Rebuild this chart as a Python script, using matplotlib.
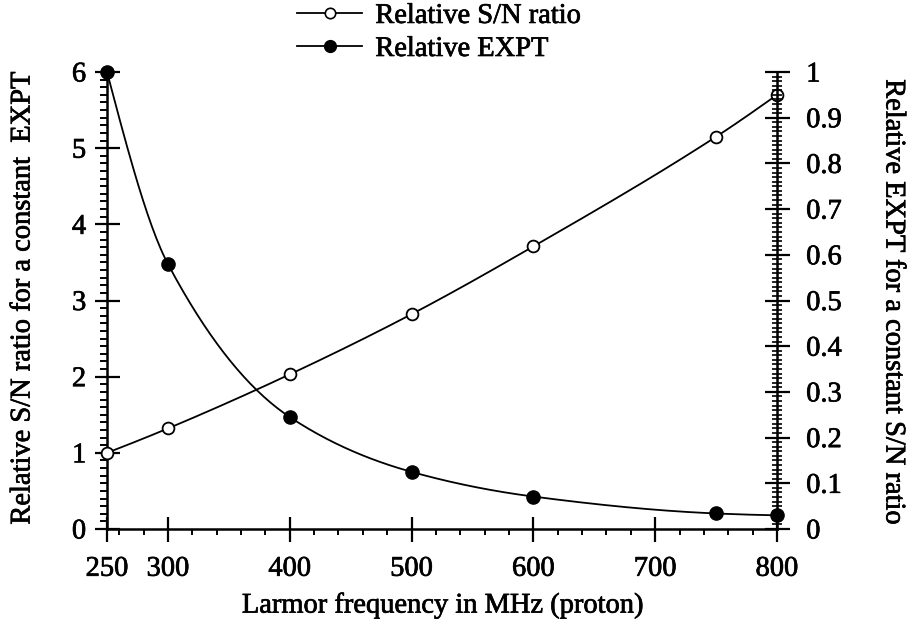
import numpy as np
import matplotlib
matplotlib.use("Agg")
import matplotlib.pyplot as plt
import matplotlib.patheffects as pe
from matplotlib.text import Text
from matplotlib.ticker import MultipleLocator, FixedLocator

# ---- data ----
freq = [250, 300, 400, 500, 600, 750, 800]
rel_sn = [1.0, 1.32, 2.03, 2.82, 3.71, 5.15, 5.70]
rel_expt = [1.0, 0.58, 0.245, 0.125, 0.071, 0.034, 0.030]
x_ticks = [250, 300, 400, 500, 600, 700, 800]
left_ticks = [0, 1, 2, 3, 4, 5, 6]
right_ticks = [0, 0.1, 0.2, 0.3, 0.4, 0.5, 0.6, 0.7, 0.8, 0.9, 1]
right_tick_labels = ["0", "0.1", "0.2", "0.3", "0.4", "0.5", "0.6", "0.7", "0.8", "0.9", "1"]
labels = ["Relative S/N ratio", "Relative EXPT"]


def pchip(x, y, n=300):
    """Smooth monotone curve through the data points (for drawing the line)."""
    x = np.asarray(x, float)
    y = np.asarray(y, float)
    h = np.diff(x)
    d = np.diff(y) / h
    m = np.zeros_like(y)
    for k in range(1, len(x) - 1):
        if d[k - 1] * d[k] > 0:
            w1 = 2 * h[k] + h[k - 1]
            w2 = h[k] + 2 * h[k - 1]
            m[k] = (w1 + w2) / (w1 / d[k - 1] + w2 / d[k])
    m[0] = ((2 * h[0] + h[1]) * d[0] - h[0] * d[1]) / (h[0] + h[1])
    if np.sign(m[0]) != np.sign(d[0]):
        m[0] = 0
    m[-1] = ((2 * h[-1] + h[-2]) * d[-1] - h[-1] * d[-2]) / (h[-1] + h[-2])
    if np.sign(m[-1]) != np.sign(d[-1]):
        m[-1] = 0
    xs = np.linspace(x[0], x[-1], n)
    idx = np.clip(np.searchsorted(x, xs) - 1, 0, len(x) - 2)
    t = (xs - x[idx]) / h[idx]
    h00 = 2 * t**3 - 3 * t**2 + 1
    h10 = t**3 - 2 * t**2 + t
    h01 = -2 * t**3 + 3 * t**2
    h11 = t**3 - t**2
    ys = h00 * y[idx] + h10 * h[idx] * m[idx] + h01 * y[idx + 1] + h11 * h[idx] * m[idx + 1]
    return xs, ys


FS = 20.5
plt.rcParams['font.family'] = ['Liberation Serif', 'DejaVu Serif']
plt.rcParams['font.size'] = FS

W, H = 907, 635
fig = plt.figure(figsize=(W / 100, H / 100), dpi=100)
x0, x1, y0, y1 = 107, 777, 72, 529
ax = fig.add_axes([x0 / W, 1 - y1 / H, (x1 - x0) / W, (y1 - y0) / H])
ax2 = ax.twinx()

lw_spine = 1.8
for a in (ax, ax2):
    a.patch.set_visible(False)
    a.spines['top'].set_visible(False)
    for s in a.spines.values():
        s.set_linewidth(lw_spine)
ax2.spines['left'].set_visible(False)
ax2.spines['bottom'].set_visible(False)
ax.spines['right'].set_visible(False)

# S/N curve on left axis
xs, ys = pchip(freq, rel_sn)
ax.plot(xs, ys, color='black', lw=1.3, clip_on=False)
ax.plot(freq, rel_sn, ls='none', marker='o', ms=8.5, mfc='white', mec='black', mew=1.3,
        clip_on=False, zorder=5)

# EXPT curve on right axis
xe, ye = pchip(freq, rel_expt)
ax2.plot(xe, ye, color='black', lw=1.3, clip_on=False)
ax2.plot(freq, rel_expt, ls='none', marker='o', ms=9.5, mfc='black', mec='black',
         clip_on=False, zorder=5)

ax.set_xlim(250, 800)
ax.set_ylim(0, 6)
ax2.set_ylim(0, 1)

ax.xaxis.set_major_locator(FixedLocator(x_ticks))
ax.set_xticklabels([str(v) for v in x_ticks])
ax.xaxis.set_minor_locator(MultipleLocator(20))
ax.yaxis.set_major_locator(FixedLocator(left_ticks))
ax.set_yticklabels([str(v) for v in left_ticks])
ax.yaxis.set_minor_locator(MultipleLocator(0.1))
ax2.yaxis.set_major_locator(FixedLocator(right_ticks))
ax2.set_yticklabels(right_tick_labels)
ax2.yaxis.set_minor_locator(MultipleLocator(0.01))

ax.tick_params(axis='x', which='major', direction='inout', length=18, width=1.6, pad=11)
ax.tick_params(axis='x', which='minor', direction='out', length=4, width=1.4)
ax.tick_params(axis='y', which='major', direction='inout', length=18, width=1.6, pad=6)
ax.tick_params(axis='y', which='minor', direction='out', length=5, width=1.4)
ax2.tick_params(axis='y', which='major', direction='inout', length=18, width=1.6, pad=12)
ax2.tick_params(axis='y', which='minor', direction='inout', length=7, width=1.2)

fig.text(23 / W, 1 - 298 / H, "Relative S/N ratio for a constant  EXPT", rotation=90,
         ha='center', va='center', fontsize=FS)
fig.text(893 / W, 1 - 302 / H, "Relative EXPT for a constant S/N ratio", rotation=270,
         ha='center', va='center', fontsize=FS)
fig.text(443 / W, 1 - 606 / H, "Larmor frequency in MHz (proton)",
         ha='center', va='center', fontsize=FS)

h1 = plt.Line2D([], [], color='black', lw=1.3, marker='o', ms=7.5, mfc='white', mec='black', mew=1.2)
h2 = plt.Line2D([], [], color='black', lw=1.3, marker='o', ms=8.5, mfc='black', mec='black')
fig.legend([h1, h2], labels, loc='upper left', bbox_to_anchor=(297 / W, 1 - 3 / H),
           frameon=False, borderpad=0, borderaxespad=0, handlelength=2.3,
           handletextpad=0.45, labelspacing=0.25, fontsize=FS)

for t in fig.findobj(Text):
    t.set_path_effects([pe.withStroke(linewidth=0.5, foreground='black')])

fig.savefig("out.png", dpi=100)
